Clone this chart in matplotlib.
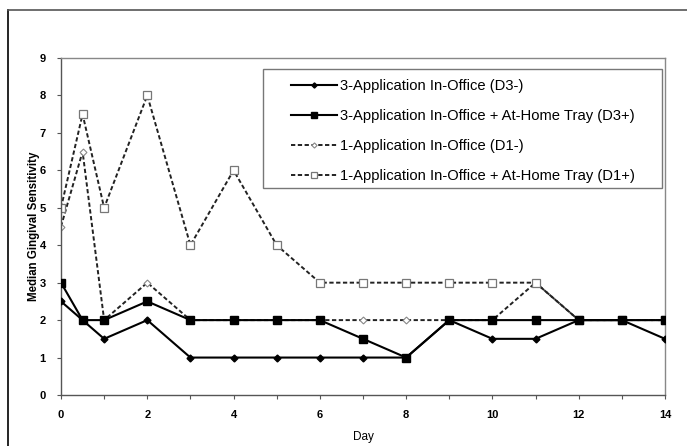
import matplotlib.pyplot as plt
from matplotlib.lines import Line2D
from matplotlib.patches import Rectangle

plt.rcParams['font.family'] = ['Liberation Sans', 'DejaVu Sans']

days = [0, 0.5, 1, 2, 3, 4, 5, 6, 7, 8, 9, 10, 11, 12, 13, 14]
d3_minus = [2.5, 2, 1.5, 2, 1, 1, 1, 1, 1, 1, 2, 1.5, 1.5, 2, 2, 1.5]
d3_plus = [3, 2, 2, 2.5, 2, 2, 2, 2, 1.5, 1, 2, 2, 2, 2, 2, 2]
d1_minus = [4.5, 6.5, 2, 3, 2, 2, 2, 2, 2, 2, 2, 2, 3, 2, 2, 2]
d1_plus = [5, 7.5, 5, 8, 4, 6, 4, 3, 3, 3, 3, 3, 3, 2, 2, 2]
labels = ["3-Application In-Office (D3-)",
          "3-Application In-Office + At-Home Tray (D3+)",
          "1-Application In-Office (D1-)",
          "1-Application In-Office + At-Home Tray (D1+)"]

fig = plt.figure(figsize=(6.87, 4.46), dpi=100)
ax = fig.add_axes([61/687, 51/446, 604/687, 337/446])

# outer frame (top and left edges visible)
fig.add_artist(Line2D([8/687, 8/687], [0, 1 - 10/446], color='black', lw=1.2, transform=fig.transFigure))
fig.add_artist(Line2D([8/687, 1], [1 - 10/446, 1 - 10/446], color='#555555', lw=1.2, transform=fig.transFigure))

dash = (0, (2.2, 1.3))
ax.plot(days, d1_minus, color='#222222', lw=1.4, ls=dash, marker='D', ms=3.5,
        mfc='white', mec='#888888', mew=0.8, label=labels[2], zorder=2)
ax.plot(days, d1_plus, color='#222222', lw=1.4, ls=dash, marker='s', ms=5.2,
        mfc='white', mec='#777777', mew=0.9, label=labels[3], zorder=2)
ax.plot(days, d3_minus, color='black', lw=1.5, marker='D', ms=3.5,
        mfc='black', mec='black', label=labels[0], zorder=3)
ax.plot(days, d3_plus, color='black', lw=1.5, marker='s', ms=5.6,
        mfc='black', mec='black', label=labels[1], zorder=3)

ax.set_xlim(0, 14)
ax.set_ylim(0, 9)
ax.set_xticks(range(0, 15, 2))
ax.set_xticks(range(0, 15), minor=True)
ax.set_yticks(range(0, 10))
ax.tick_params(axis='both', direction='out', length=3, width=0.8, color='#555555',
               labelsize=8, pad=8)
ax.tick_params(axis='x', which='minor', direction='out', length=3, width=0.8, color='#555555')
for t in ax.get_xticklabels() + ax.get_yticklabels():
    t.set_fontweight('bold')
for s in ['top', 'right']:
    ax.spines[s].set_color('#888888')
for s in ['left', 'bottom']:
    ax.spines[s].set_color('#555555')
for s in ax.spines.values():
    s.set_linewidth(1.0)

ax.set_xlabel('Day', fontsize=8.5, labelpad=8)
ax.set_ylabel('Median Gingival Sensitivity', fontsize=8.3, fontweight='bold')
ax.yaxis.set_label_coords(-0.034, 0.5)

# legend box drawn separately, entries placed inside
ax.add_patch(Rectangle((202/604, (395-188)/337), 399/604, 119/337, transform=ax.transAxes,
                       fill=True, facecolor='white', edgecolor='#777777', lw=1.0, zorder=4))
h, l = ax.get_legend_handles_labels()
order = [2, 3, 0, 1]
leg = ax.legend([h[i] for i in order], [l[i] for i in order],
                loc='upper left', bbox_to_anchor=(230/604, (395-79)/337), fontsize=10.6,
                frameon=False, handlelength=3.1, handletextpad=0.2, labelspacing=1.09,
                borderpad=0, borderaxespad=0, markerscale=0.75)
leg.set_zorder(5)

fig.savefig('out.png', dpi=100)
